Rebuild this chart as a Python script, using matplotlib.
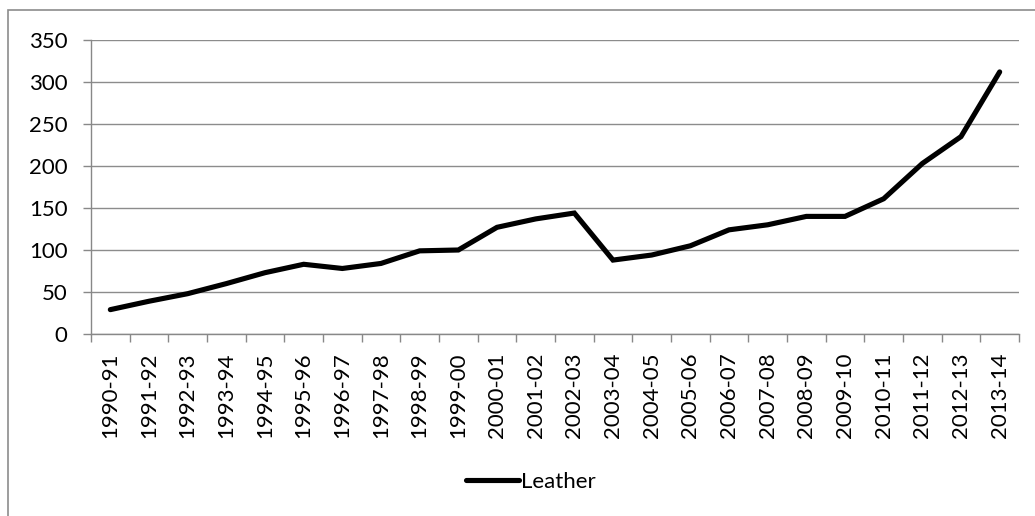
import matplotlib
matplotlib.use("Agg")
import matplotlib.pyplot as plt
from matplotlib.patches import Rectangle

years = ["1990-91", "1991-92", "1992-93", "1993-94", "1994-95", "1995-96",
         "1996-97", "1997-98", "1998-99", "1999-00", "2000-01", "2001-02",
         "2002-03", "2003-04", "2004-05", "2005-06", "2006-07", "2007-08",
         "2008-09", "2009-10", "2010-11", "2011-12", "2012-13", "2013-14"]
leather = [29, 39, 48, 60, 73, 83, 78, 84, 99, 100, 127, 137,
           144, 88, 94, 105, 124, 130, 140, 140, 161, 203, 235, 312]
y_ticks = [0, 50, 100, 150, 200, 250, 300, 350]

plt.rcParams["font.family"] = ["Lato", "DejaVu Sans"]

fig = plt.figure(figsize=(10.35, 5.16), dpi=100)
ax = fig.add_axes([91 / 1035, 1 - 334 / 516, (1019 - 91) / 1035, (334 - 40) / 516])

x = list(range(len(years)))
ax.plot(x, leather, color="black", lw=3.7, solid_joinstyle="miter",
        solid_capstyle="round", label="Leather", zorder=3)

ax.set_xlim(-0.5, len(years) - 0.5)
ax.set_ylim(0, 350)
ax.set_yticks(y_ticks)
ax.set_yticklabels([str(v) for v in y_ticks], fontsize=16)
ax.set_xticks(x)
ax.set_xticklabels(years, rotation=90, fontsize=16)
ax.set_xticks([i - 0.5 for i in range(len(years) + 1)], minor=True)
ax.tick_params(axis="x", which="major", length=0, pad=13)
ax.tick_params(axis="x", which="minor", length=6, color="#888888", width=1)
ax.tick_params(axis="y", length=6, color="#888888", width=1, pad=11)

ax.grid(axis="y", color="#8c8c8c", lw=1)
ax.set_axisbelow(True)
for side in ["top", "right"]:
    ax.spines[side].set_visible(False)
for side in ["left", "bottom"]:
    ax.spines[side].set_color("#888888")
    ax.spines[side].set_linewidth(1)

fig.legend(loc="center", bbox_to_anchor=(0.513, 1 - 482 / 516), frameon=False,
           fontsize=16, handlelength=2.4, handletextpad=0.1)

# outer chart frame (right and bottom edges fall outside the image)
fig.patches.append(Rectangle((8 / 1035, -0.05), 1.1, 1.05 - 10 / 516,
                             transform=fig.transFigure, fill=False,
                             edgecolor="#8c8c8c", lw=1.2))

fig.savefig("out.png", dpi=100)
